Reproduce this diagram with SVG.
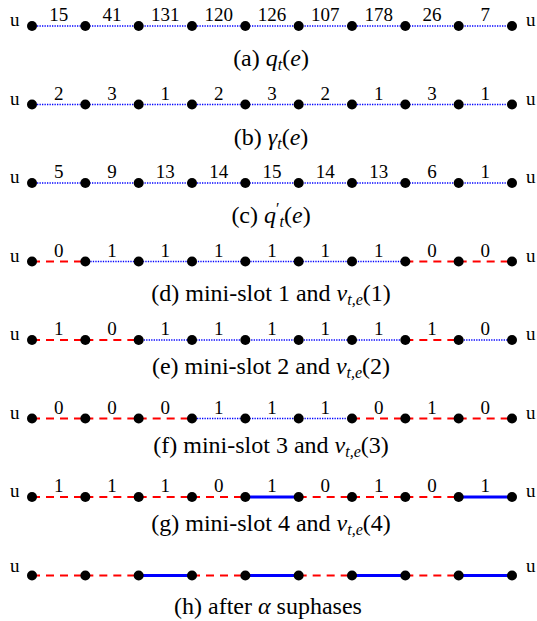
<svg xmlns="http://www.w3.org/2000/svg" xmlns:xlink="http://www.w3.org/1999/xlink" width="537" height="621" viewBox="0 0 537 621" font-family="'Liberation Serif','DejaVu Serif',serif">
<style>
text{font-family:'Liberation Serif','DejaVu Serif',serif;fill:#000}
.lbl{font-size:19px;text-anchor:middle}
.u{font-size:19px}
.cap{font-size:24px;text-anchor:middle}
.i{font-style:italic}
.B{stroke:#0000ff;stroke-width:1.4;stroke-dasharray:1.3 1.2;fill:none}
.R{stroke:#ff0000;stroke-width:2;stroke-dasharray:8 6;fill:none}
.S{stroke:#0000ff;stroke-width:3;fill:none}
</style>
<defs><circle id="dot" r="5" fill="#000"/></defs>
<rect width="537" height="621" fill="#fff"/>
<g id="connectors">
<path class="B" d="M32 26H512"/>
<path class="B" d="M32 104.5H512"/>
<path class="B" d="M32 183H512"/>
<path class="R" d="M32 261.5H85.33"/>
<path class="B" d="M85.33 261.5H405.33"/>
<path class="R" d="M405.33 261.5H458.67"/>
<path class="R" d="M458.67 261.5H512"/>
<path class="R" d="M32 340H85.33"/>
<path class="R" d="M85.33 340H138.67"/>
<path class="B" d="M138.67 340H405.33"/>
<path class="R" d="M405.33 340H458.67"/>
<path class="B" d="M458.67 340H512"/>
<path class="R" d="M32 418.5H85.33"/>
<path class="R" d="M85.33 418.5H138.67"/>
<path class="R" d="M138.67 418.5H192"/>
<path class="B" d="M192 418.5H352"/>
<path class="R" d="M352 418.5H405.33"/>
<path class="R" d="M405.33 418.5H458.67"/>
<path class="R" d="M458.67 418.5H512"/>
<path class="R" d="M32 497H85.33"/>
<path class="R" d="M85.33 497H138.67"/>
<path class="R" d="M138.67 497H192"/>
<path class="R" d="M192 497H245.33"/>
<path class="S" d="M245.33 497H298.67"/>
<path class="R" d="M298.67 497H352"/>
<path class="R" d="M352 497H405.33"/>
<path class="R" d="M405.33 497H458.67"/>
<path class="S" d="M458.67 497H512"/>
<path class="R" d="M32 575.5H85.33"/>
<path class="R" d="M85.33 575.5H138.67"/>
<path class="S" d="M138.67 575.5H192"/>
<path class="R" d="M192 575.5H245.33"/>
<path class="S" d="M245.33 575.5H298.67"/>
<path class="R" d="M298.67 575.5H352"/>
<path class="S" d="M352 575.5H405.33"/>
<path class="R" d="M405.33 575.5H458.67"/>
<path class="S" d="M458.67 575.5H512"/>
</g>
<g id="row-a">
<g id="a0"><use xlink:href="#dot" x="32" y="26"/></g><g id="a1"><use xlink:href="#dot" x="85.33" y="26"/></g><g id="a2"><use xlink:href="#dot" x="138.67" y="26"/></g><g id="a3"><use xlink:href="#dot" x="192" y="26"/></g><g id="a4"><use xlink:href="#dot" x="245.33" y="26"/></g><g id="a5"><use xlink:href="#dot" x="298.67" y="26"/></g><g id="a6"><use xlink:href="#dot" x="352" y="26"/></g><g id="a7"><use xlink:href="#dot" x="405.33" y="26"/></g><g id="a8"><use xlink:href="#dot" x="458.67" y="26"/></g><g id="a9"><use xlink:href="#dot" x="512" y="26"/></g>
<text class="u" x="10" y="26">u</text><text class="u" x="526" y="26">u</text>
<g transform="translate(0,21)"><text class="lbl" x="58.67">15</text><text class="lbl" x="112">41</text><text class="lbl" x="165.33">131</text><text class="lbl" x="218.67">120</text><text class="lbl" x="272">126</text><text class="lbl" x="325.33">107</text><text class="lbl" x="378.67">178</text><text class="lbl" x="432">26</text><text class="lbl" x="485.33">7</text></g>
<text class="cap" x="271" y="66">(a) <tspan class="i">q</tspan><tspan class="i" font-size="16" dy="4">t</tspan><tspan dy="-4">(</tspan><tspan class="i">e</tspan>)</text>
</g>
<g id="row-b">
<g id="b0"><use xlink:href="#dot" x="32" y="104.5"/></g><g id="b1"><use xlink:href="#dot" x="85.33" y="104.5"/></g><g id="b2"><use xlink:href="#dot" x="138.67" y="104.5"/></g><g id="b3"><use xlink:href="#dot" x="192" y="104.5"/></g><g id="b4"><use xlink:href="#dot" x="245.33" y="104.5"/></g><g id="b5"><use xlink:href="#dot" x="298.67" y="104.5"/></g><g id="b6"><use xlink:href="#dot" x="352" y="104.5"/></g><g id="b7"><use xlink:href="#dot" x="405.33" y="104.5"/></g><g id="b8"><use xlink:href="#dot" x="458.67" y="104.5"/></g><g id="b9"><use xlink:href="#dot" x="512" y="104.5"/></g>
<text class="u" x="10" y="104.5">u</text><text class="u" x="526" y="104.5">u</text>
<g transform="translate(0,99.5)"><text class="lbl" x="58.67">2</text><text class="lbl" x="112">3</text><text class="lbl" x="165.33">1</text><text class="lbl" x="218.67">2</text><text class="lbl" x="272">3</text><text class="lbl" x="325.33">2</text><text class="lbl" x="378.67">1</text><text class="lbl" x="432">3</text><text class="lbl" x="485.33">1</text></g>
<text class="cap" x="271" y="144.5">(b) <tspan class="i">γ</tspan><tspan class="i" font-size="16" dy="4">t</tspan><tspan dy="-4">(</tspan><tspan class="i">e</tspan>)</text>
</g>
<g id="row-c">
<g id="c0"><use xlink:href="#dot" x="32" y="183"/></g><g id="c1"><use xlink:href="#dot" x="85.33" y="183"/></g><g id="c2"><use xlink:href="#dot" x="138.67" y="183"/></g><g id="c3"><use xlink:href="#dot" x="192" y="183"/></g><g id="c4"><use xlink:href="#dot" x="245.33" y="183"/></g><g id="c5"><use xlink:href="#dot" x="298.67" y="183"/></g><g id="c6"><use xlink:href="#dot" x="352" y="183"/></g><g id="c7"><use xlink:href="#dot" x="405.33" y="183"/></g><g id="c8"><use xlink:href="#dot" x="458.67" y="183"/></g><g id="c9"><use xlink:href="#dot" x="512" y="183"/></g>
<text class="u" x="10" y="183">u</text><text class="u" x="526" y="183">u</text>
<g transform="translate(0,178)"><text class="lbl" x="58.67">5</text><text class="lbl" x="112">9</text><text class="lbl" x="165.33">13</text><text class="lbl" x="218.67">14</text><text class="lbl" x="272">15</text><text class="lbl" x="325.33">14</text><text class="lbl" x="378.67">13</text><text class="lbl" x="432">6</text><text class="lbl" x="485.33">1</text></g>
<text class="cap" x="271" y="223">(c) <tspan class="i">q</tspan><tspan font-size="16" dy="-9">′</tspan><tspan class="i" font-size="16" dy="13">t</tspan><tspan dy="-4">(</tspan><tspan class="i">e</tspan>)</text>
</g>
<g id="row-d">
<g id="d0"><use xlink:href="#dot" x="32" y="261.5"/></g><g id="d1"><use xlink:href="#dot" x="85.33" y="261.5"/></g><g id="d2"><use xlink:href="#dot" x="138.67" y="261.5"/></g><g id="d3"><use xlink:href="#dot" x="192" y="261.5"/></g><g id="d4"><use xlink:href="#dot" x="245.33" y="261.5"/></g><g id="d5"><use xlink:href="#dot" x="298.67" y="261.5"/></g><g id="d6"><use xlink:href="#dot" x="352" y="261.5"/></g><g id="d7"><use xlink:href="#dot" x="405.33" y="261.5"/></g><g id="d8"><use xlink:href="#dot" x="458.67" y="261.5"/></g><g id="d9"><use xlink:href="#dot" x="512" y="261.5"/></g>
<text class="u" x="10" y="261.5">u</text><text class="u" x="526" y="261.5">u</text>
<g transform="translate(0,256.5)"><text class="lbl" x="58.67">0</text><text class="lbl" x="112">1</text><text class="lbl" x="165.33">1</text><text class="lbl" x="218.67">1</text><text class="lbl" x="272">1</text><text class="lbl" x="325.33">1</text><text class="lbl" x="378.67">1</text><text class="lbl" x="432">0</text><text class="lbl" x="485.33">0</text></g>
<text class="cap" x="271" y="301">(d) mini-slot 1 and <tspan class="i">v</tspan><tspan class="i" font-size="16" dy="4">t,e</tspan><tspan dy="-4">(1)</tspan></text>
</g>
<g id="row-e">
<g id="e0"><use xlink:href="#dot" x="32" y="340"/></g><g id="e1"><use xlink:href="#dot" x="85.33" y="340"/></g><g id="e2"><use xlink:href="#dot" x="138.67" y="340"/></g><g id="e3"><use xlink:href="#dot" x="192" y="340"/></g><g id="e4"><use xlink:href="#dot" x="245.33" y="340"/></g><g id="e5"><use xlink:href="#dot" x="298.67" y="340"/></g><g id="e6"><use xlink:href="#dot" x="352" y="340"/></g><g id="e7"><use xlink:href="#dot" x="405.33" y="340"/></g><g id="e8"><use xlink:href="#dot" x="458.67" y="340"/></g><g id="e9"><use xlink:href="#dot" x="512" y="340"/></g>
<text class="u" x="10" y="340">u</text><text class="u" x="526" y="340">u</text>
<g transform="translate(0,335)"><text class="lbl" x="58.67">1</text><text class="lbl" x="112">0</text><text class="lbl" x="165.33">1</text><text class="lbl" x="218.67">1</text><text class="lbl" x="272">1</text><text class="lbl" x="325.33">1</text><text class="lbl" x="378.67">1</text><text class="lbl" x="432">1</text><text class="lbl" x="485.33">0</text></g>
<text class="cap" x="271" y="374">(e) mini-slot 2 and <tspan class="i">v</tspan><tspan class="i" font-size="16" dy="4">t,e</tspan><tspan dy="-4">(2)</tspan></text>
</g>
<g id="row-f">
<g id="f0"><use xlink:href="#dot" x="32" y="418.5"/></g><g id="f1"><use xlink:href="#dot" x="85.33" y="418.5"/></g><g id="f2"><use xlink:href="#dot" x="138.67" y="418.5"/></g><g id="f3"><use xlink:href="#dot" x="192" y="418.5"/></g><g id="f4"><use xlink:href="#dot" x="245.33" y="418.5"/></g><g id="f5"><use xlink:href="#dot" x="298.67" y="418.5"/></g><g id="f6"><use xlink:href="#dot" x="352" y="418.5"/></g><g id="f7"><use xlink:href="#dot" x="405.33" y="418.5"/></g><g id="f8"><use xlink:href="#dot" x="458.67" y="418.5"/></g><g id="f9"><use xlink:href="#dot" x="512" y="418.5"/></g>
<text class="u" x="10" y="418.5">u</text><text class="u" x="526" y="418.5">u</text>
<g transform="translate(0,413.5)"><text class="lbl" x="58.67">0</text><text class="lbl" x="112">0</text><text class="lbl" x="165.33">0</text><text class="lbl" x="218.67">1</text><text class="lbl" x="272">1</text><text class="lbl" x="325.33">1</text><text class="lbl" x="378.67">0</text><text class="lbl" x="432">1</text><text class="lbl" x="485.33">0</text></g>
<text class="cap" x="271" y="452.5">(f) mini-slot 3 and <tspan class="i">v</tspan><tspan class="i" font-size="16" dy="4">t,e</tspan><tspan dy="-4">(3)</tspan></text>
</g>
<g id="row-g">
<g id="g0"><use xlink:href="#dot" x="32" y="497"/></g><g id="g1"><use xlink:href="#dot" x="85.33" y="497"/></g><g id="g2"><use xlink:href="#dot" x="138.67" y="497"/></g><g id="g3"><use xlink:href="#dot" x="192" y="497"/></g><g id="g4"><use xlink:href="#dot" x="245.33" y="497"/></g><g id="g5"><use xlink:href="#dot" x="298.67" y="497"/></g><g id="g6"><use xlink:href="#dot" x="352" y="497"/></g><g id="g7"><use xlink:href="#dot" x="405.33" y="497"/></g><g id="g8"><use xlink:href="#dot" x="458.67" y="497"/></g><g id="g9"><use xlink:href="#dot" x="512" y="497"/></g>
<text class="u" x="10" y="497">u</text><text class="u" x="526" y="497">u</text>
<g transform="translate(0,492)"><text class="lbl" x="58.67">1</text><text class="lbl" x="112">1</text><text class="lbl" x="165.33">1</text><text class="lbl" x="218.67">0</text><text class="lbl" x="272">1</text><text class="lbl" x="325.33">0</text><text class="lbl" x="378.67">1</text><text class="lbl" x="432">0</text><text class="lbl" x="485.33">1</text></g>
<text class="cap" x="271" y="531">(g) mini-slot 4 and <tspan class="i">v</tspan><tspan class="i" font-size="16" dy="4">t,e</tspan><tspan dy="-4">(4)</tspan></text>
</g>
<g id="row-h">
<g id="h0"><use xlink:href="#dot" x="32" y="575.5"/></g><g id="h1"><use xlink:href="#dot" x="85.33" y="575.5"/></g><g id="h2"><use xlink:href="#dot" x="138.67" y="575.5"/></g><g id="h3"><use xlink:href="#dot" x="192" y="575.5"/></g><g id="h4"><use xlink:href="#dot" x="245.33" y="575.5"/></g><g id="h5"><use xlink:href="#dot" x="298.67" y="575.5"/></g><g id="h6"><use xlink:href="#dot" x="352" y="575.5"/></g><g id="h7"><use xlink:href="#dot" x="405.33" y="575.5"/></g><g id="h8"><use xlink:href="#dot" x="458.67" y="575.5"/></g><g id="h9"><use xlink:href="#dot" x="512" y="575.5"/></g>
<text class="u" x="10" y="572">u</text><text class="u" x="526" y="572">u</text>
<text class="cap" x="268" y="614">(h) after <tspan class="i">α</tspan> suphases</text>
</g>
</svg>
